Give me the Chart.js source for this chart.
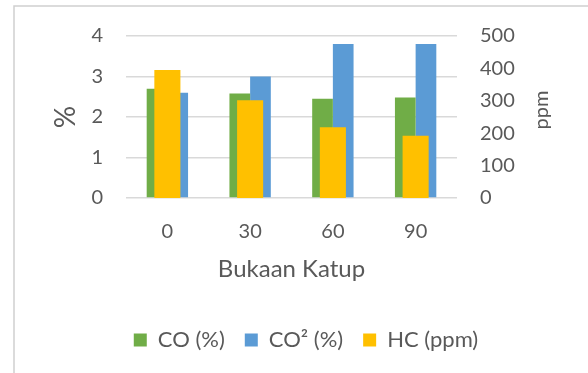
<!DOCTYPE html>
<html>
<head>
<meta charset="utf-8">
<script src="https://cdn.jsdelivr.net/npm/chart.js@4"></script>
<style>
  html, body { margin: 0; padding: 0; background: #ffffff; }
  canvas { display: block; }
</style>
</head>
<body>
<canvas id="chart" width="588" height="373"></canvas>
<script>
// Valve opening categories and measured emissions
const categories = ['0', '30', '60', '90'];
const coPercent = [2.7, 2.58, 2.45, 2.48];
const co2Percent = [2.6, 3.0, 3.8, 3.8];
const hcPpm = [395, 302, 218, 192];

// Axis tick values
const percentTicks = [0, 1, 2, 3, 4];
const ppmTicks = [0, 100, 200, 300, 400, 500];

const TEXT = '#595959';
const GRID = '#D9D9D9';
const FONT = 'Lato, "Open Sans", sans-serif';

// Light frame on the left and top edges, plus white background
const framePlugin = {
  id: 'frame',
  beforeDraw(chart) {
    const ctx = chart.ctx;
    ctx.save();
    ctx.fillStyle = '#ffffff';
    ctx.fillRect(0, 0, chart.width, chart.height);
    ctx.strokeStyle = '#D0D0D0';
    ctx.lineWidth = 1.5;
    ctx.beginPath();
    ctx.moveTo(14, chart.height);
    ctx.lineTo(14, 6);
    ctx.lineTo(chart.width, 6);
    ctx.stroke();
    ctx.restore();
  }
};

// Secondary axis title, rotated to read bottom-to-top like the primary one
const rightTitlePlugin = {
  id: 'rightTitle',
  afterDraw(chart) {
    const s = chart.scales.y2;
    const ctx = chart.ctx;
    ctx.save();
    ctx.fillStyle = TEXT;
    ctx.font = '20px ' + FONT;
    ctx.textAlign = 'center';
    ctx.textBaseline = 'alphabetic';
    ctx.translate(s.left + 91, (s.top + s.bottom) / 2 - 7);
    ctx.rotate(-Math.PI / 2);
    ctx.fillText('ppm', 0, 0);
    ctx.restore();
  }
};

new Chart(document.getElementById('chart'), {
  type: 'bar',
  data: {
    labels: categories,
    datasets: [
      {
        label: 'CO (%)',
        data: coPercent,
        backgroundColor: '#70AD47',
        yAxisID: 'y',
        categoryPercentage: 0.5,
        barPercentage: 1,
        order: 1
      },
      {
        label: 'CO\u00B2 (%)',
        data: co2Percent,
        backgroundColor: '#5B9BD5',
        yAxisID: 'y',
        categoryPercentage: 0.5,
        barPercentage: 1,
        order: 1
      },
      {
        // centred over the category, overlapping the primary-axis pair
        label: 'HC (ppm)',
        data: hcPpm,
        backgroundColor: '#FFC000',
        yAxisID: 'y2',
        grouped: false,
        categoryPercentage: 1,
        barPercentage: 0.315,
        order: 0
      }
    ]
  },
  options: {
    responsive: false,
    animation: false,
    devicePixelRatio: 1,
    layout: { padding: { left: 24, right: 0, top: 36, bottom: 12 } },
    scales: {
      x: {
        type: 'category',
        position: 'bottom',
        grid: { display: false },
        border: { display: false },
        ticks: { color: TEXT, font: { family: FONT, size: 20 }, padding: 14 },
        title: {
          display: true,
          text: 'Bukaan Katup',
          color: TEXT,
          font: { family: FONT, size: 24 },
          padding: { top: 0, bottom: 25 }
        },
        afterFit(scale) { scale.height = 111; }
      },
      y: {
        position: 'left',
        min: percentTicks[0],
        max: percentTicks[percentTicks.length - 1],
        grid: { color: GRID, lineWidth: 1.5, drawTicks: false },
        border: { display: false },
        ticks: {
          stepSize: percentTicks[1] - percentTicks[0],
          color: TEXT,
          font: { family: FONT, size: 20 },
          padding: 23
        },
        title: {
          display: true,
          text: '%',
          color: TEXT,
          font: { family: FONT, size: 28 },
          padding: { top: 25, bottom: 0 }
        },
        afterFit(scale) { scale.width = 102; }
      },
      y2: {
        position: 'right',
        min: ppmTicks[0],
        max: ppmTicks[ppmTicks.length - 1],
        grid: { display: false, drawTicks: false },
        border: { display: false },
        ticks: {
          stepSize: ppmTicks[1] - ppmTicks[0],
          color: TEXT,
          font: { family: FONT, size: 20 },
          padding: 23
        },
        afterFit(scale) { scale.width = 131; }
      }
    },
    plugins: {
      legend: {
        position: 'bottom',
        labels: {
          boxWidth: 13,
          boxHeight: 13,
          padding: 20,
          color: TEXT,
          font: { family: FONT, size: 22 },
          sort: (a, b) => a.datasetIndex - b.datasetIndex
        }
      },
      tooltip: { enabled: false }
    }
  },
  plugins: [framePlugin, rightTitlePlugin]
});
</script>
</body>
</html>
